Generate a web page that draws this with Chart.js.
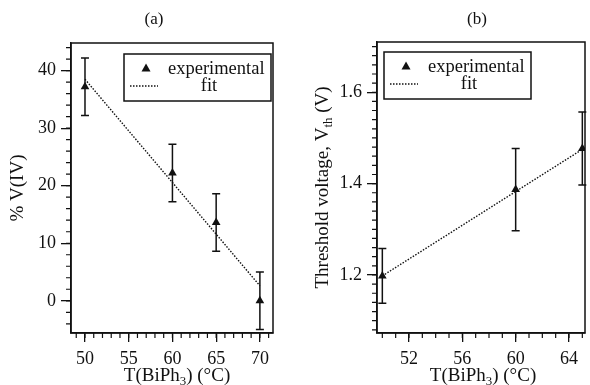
<!DOCTYPE html>
<html>
<head>
<meta charset="utf-8">
<script src="https://cdn.jsdelivr.net/npm/chart.js@4.4.1/dist/chart.umd.min.js"></script>
<style>
  body { margin: 0; background: #fff; }
  #wrap { position: relative; width: 590px; height: 385px; }
  canvas { position: absolute; top: 0; }
</style>
</head>
<body>
<div id="wrap">
  <canvas id="chartA" width="295" height="385" style="left:0"></canvas>
  <canvas id="chartB" width="295" height="385" style="left:295px"></canvas>
</div>
<script>
// (a) % V(IV) against BiPh3 temperature
const tempA = [50, 60, 65, 70];
const pctA = [37.2, 22.2, 13.6, 0];
const errA = [5, 5, 5, 5];
const fitTempA = [50, 70];
const fitPctA = [38.5, 2.6];
const xTicksA = [50, 55, 60, 65, 70];
const yTicksA = [0, 10, 20, 30, 40];

// (b) threshold voltage against BiPh3 temperature
const tempB = [50, 60, 65];
const vthB = [1.198, 1.387, 1.477];
const errB = [0.06, 0.09, 0.08];
const fitTempB = [50, 65];
const fitVthB = [1.198, 1.475];
const xTicksB = [52, 56, 60, 64];
const yTicksB = [1.2, 1.4, 1.6];

const SERIF = '"Liberation Serif", "Times New Roman", serif';
const INK = '#111';

// draws text made of [string, isSubscript] pieces centred on x
function drawRich(ctx, parts, x, y, size) {
  let total = 0;
  parts.forEach(p => {
    ctx.font = (p[1] ? size * 0.68 : size) + 'px ' + SERIF;
    total += ctx.measureText(p[0]).width;
  });
  let cx = x - total / 2;
  ctx.textAlign = 'left';
  ctx.textBaseline = 'middle';
  parts.forEach(p => {
    const s = p[1] ? size * 0.68 : size;
    ctx.font = s + 'px ' + SERIF;
    ctx.fillText(p[0], cx, y + (p[1] ? size * 0.28 : 0));
    cx += ctx.measureText(p[0]).width;
  });
}

const panelDecor = {
  id: 'panelDecor',
  beforeDatasetsDraw(chart, args, opts) {
    const ctx = chart.ctx;
    const ys = chart.scales.y;
    const ds = chart.data.datasets[0];
    const meta = chart.getDatasetMeta(0);
    ctx.save();
    ctx.strokeStyle = INK;
    ctx.lineWidth = 1.5;
    meta.data.forEach((pt, i) => {
      const v = ds.data[i].y;
      const top = ys.getPixelForValue(v + opts.err[i]);
      const bot = ys.getPixelForValue(v - opts.err[i]);
      ctx.beginPath();
      ctx.moveTo(pt.x, top); ctx.lineTo(pt.x, bot);
      ctx.moveTo(pt.x - 4, top); ctx.lineTo(pt.x + 4, top);
      ctx.moveTo(pt.x - 4, bot); ctx.lineTo(pt.x + 4, bot);
      ctx.stroke();
    });
    ctx.restore();
  },
  afterDraw(chart, args, opts) {
    const ctx = chart.ctx;
    const a = chart.chartArea;
    const xs = chart.scales.x, ys = chart.scales.y;
    ctx.save();
    ctx.strokeStyle = INK;
    ctx.fillStyle = INK;

    // frame
    ctx.lineWidth = 1.5;
    ctx.strokeRect(a.left, a.top, a.right - a.left, a.bottom - a.top);

    // minor ticks
    ctx.lineWidth = 1.2;
    ctx.beginPath();
    for (let k = Math.ceil(xs.min / opts.minorX - 1e-9); k * opts.minorX <= xs.max + 1e-9; k++) {
      const px = xs.getPixelForValue(k * opts.minorX);
      ctx.moveTo(px, a.bottom); ctx.lineTo(px, a.bottom + 5);
    }
    for (let k = Math.ceil(ys.min / opts.minorY - 1e-9); k * opts.minorY <= ys.max + 1e-9; k++) {
      const py = ys.getPixelForValue(k * opts.minorY);
      ctx.moveTo(a.left, py); ctx.lineTo(a.left - 5, py);
    }
    ctx.stroke();

    // legend
    const bx = a.left + opts.legend[0], by = a.top + opts.legend[1];
    ctx.fillStyle = '#fff';
    ctx.fillRect(bx, by, 147, 47);
    ctx.fillStyle = INK;
    ctx.lineWidth = 1.5;
    ctx.strokeRect(bx, by, 147, 47);
    ctx.beginPath();
    ctx.moveTo(bx + 22, by + 9.5);
    ctx.lineTo(bx + 26.5, by + 17.5);
    ctx.lineTo(bx + 17.5, by + 17.5);
    ctx.closePath();
    ctx.fill();
    ctx.font = '18.5px ' + SERIF;
    ctx.textAlign = 'left';
    ctx.textBaseline = 'middle';
    ctx.fillText('experimental', bx + 44, by + 15);
    ctx.textAlign = 'center';
    ctx.fillText('fit', bx + 85, by + 32);
    ctx.lineWidth = 1.3;
    ctx.setLineDash([1.5, 1.5]);
    ctx.beginPath();
    ctx.moveTo(bx + 6, by + 32); ctx.lineTo(bx + 34, by + 32);
    ctx.stroke();
    ctx.setLineDash([]);

    // panel title and axis titles
    ctx.font = '17px ' + SERIF;
    ctx.textAlign = 'center';
    ctx.fillText(opts.title, opts.titleX, 20);
    drawRich(ctx, opts.xLabel, opts.xLabelX, 376, 19);
    ctx.translate(opts.yLabelX, (a.top + a.bottom) / 2);
    ctx.rotate(-Math.PI / 2);
    drawRich(ctx, opts.yLabel, 0, 0, 19);
    ctx.restore();
  }
};

function makePanel(id, cfg) {
  return new Chart(document.getElementById(id), {
    type: 'scatter',
    data: {
      datasets: [
        {
          label: 'experimental',
          data: cfg.xs.map((x, i) => ({ x: x, y: cfg.ys[i] })),
          pointStyle: 'triangle',
          pointRadius: 5,
          backgroundColor: INK,
          borderColor: INK,
          borderWidth: 0
        },
        {
          label: 'fit',
          data: cfg.fitX.map((x, i) => ({ x: x, y: cfg.fitY[i] })),
          showLine: true,
          pointRadius: 0,
          borderColor: INK,
          borderWidth: 1.4,
          borderDash: [1.5, 1.5]
        }
      ]
    },
    options: {
      responsive: false,
      animation: false,
      devicePixelRatio: 1,
      layout: { padding: { left: 0, right: cfg.padRight, top: cfg.padTop, bottom: 0 } },
      plugins: {
        legend: { display: false },
        tooltip: { enabled: false },
        panelDecor: cfg.decor
      },
      scales: {
        x: {
          type: 'linear',
          min: cfg.xMin, max: cfg.xMax,
          afterBuildTicks: s => { s.ticks = cfg.xTicks.map(v => ({ value: v })); },
          afterFit: s => { s.height = 52; },
          ticks: { color: INK, font: { family: SERIF, size: 18 }, padding: 6, maxRotation: 0, callback: v => String(v) },
          grid: { drawOnChartArea: false, tickLength: 9, color: INK, lineWidth: 1.3 },
          border: { color: INK, width: 1.5 }
        },
        y: {
          type: 'linear',
          min: cfg.yMin, max: cfg.yMax,
          afterBuildTicks: s => { s.ticks = cfg.yTicks.map(v => ({ value: v })); },
          afterFit: s => { s.width = cfg.yWidth; },
          ticks: { color: INK, font: { family: SERIF, size: 18 }, padding: 5, callback: v => String(v) },
          grid: { drawOnChartArea: false, tickLength: 10, color: INK, lineWidth: 1.3 },
          border: { color: INK, width: 1.5 }
        }
      }
    },
    plugins: [panelDecor]
  });
}

makePanel('chartA', {
  xs: tempA, ys: pctA, fitX: fitTempA, fitY: fitPctA,
  xTicks: xTicksA, yTicks: yTicksA,
  xMin: 48.4, xMax: 71.5, yMin: -5.6, yMax: 44.8,
  yWidth: 71, padRight: 22, padTop: 43,
  decor: {
    err: errA, minorX: 1, minorY: 2, legend: [53, 11],
    title: '(a)', titleX: 154, xLabelX: 177, yLabelX: 18,
    xLabel: [['T(BiPh', false], ['3', true], [') (°C)', false]],
    yLabel: [['% V(IV)', false]]
  }
});

makePanel('chartB', {
  xs: tempB, ys: vthB, fitX: fitTempB, fitY: fitVthB,
  xTicks: xTicksB, yTicks: yTicksB,
  xMin: 49.6, xMax: 65.2, yMin: 1.073, yMax: 1.71,
  yWidth: 82, padRight: 1, padTop: 42,
  decor: {
    err: errB, minorX: 1, minorY: 0.02, legend: [7, 10],
    title: '(b)', titleX: 182, xLabelX: 188, yLabelX: 28,
    xLabel: [['T(BiPh', false], ['3', true], [') (°C)', false]],
    yLabel: [['Threshold voltage, V', false], ['th', true], [' (V)', false]]
  }
});
</script>
</body>
</html>
